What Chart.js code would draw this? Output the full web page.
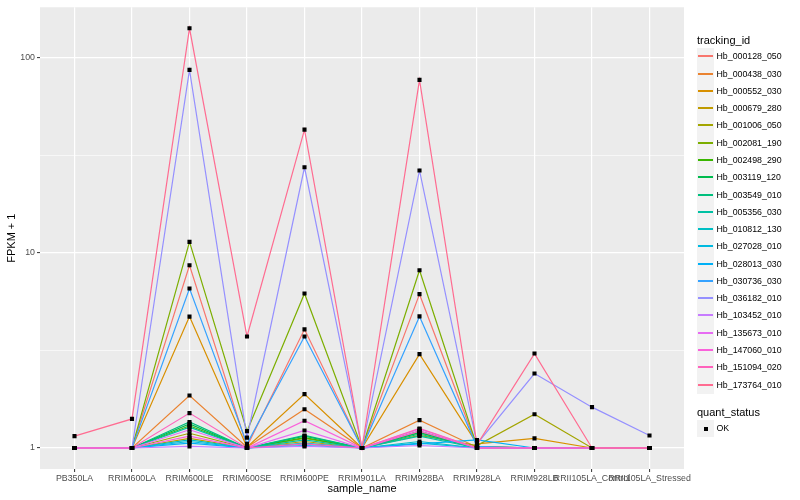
<!DOCTYPE html>
<html><head><meta charset="utf-8">
<script src="https://cdn.jsdelivr.net/npm/chart.js@4"></script>
<style>
body{margin:0;background:#fff;}
#wrap{position:relative;width:800px;height:500px;font-family:"Liberation Sans",Arial,sans-serif;overflow:hidden;}
canvas{position:absolute;left:0;top:0;}
.t{position:absolute;white-space:nowrap;color:#000;}
.key{position:absolute;background:#F2F2F2;}
.kl{position:absolute;left:0;right:0;}
</style></head><body>
<div id="wrap"><canvas id="c" width="800" height="500"></canvas><div id="legend"></div></div>
<script>
const sampleNames = ["PB350LA","RRIM600LA","RRIM600LE","RRIM600SE","RRIM600PE","RRIM901LA","RRIM928BA","RRIM928LA","RRIM928LB","RRII105LA_Control","RRII105LA_Stressed"];
const trackingIds = ["Hb_000128_050","Hb_000438_030","Hb_000552_030","Hb_000679_280","Hb_001006_050","Hb_002081_190","Hb_002498_290","Hb_003119_120","Hb_003549_010","Hb_005356_030","Hb_010812_130","Hb_027028_010","Hb_028013_030","Hb_030736_030","Hb_036182_010","Hb_103452_010","Hb_135673_010","Hb_147060_010","Hb_151094_020","Hb_173764_010"];

// FPKM + 1 per sample
const hb_000128_050 = [1,1,8.65,1.02,4.06,1,6.15,1.02,1,1,1];
const hb_000438_030 = [1,1,1.86,1.01,1.58,1,1.39,1.01,1,1,1];
const hb_000552_030 = [1,1,4.72,1.01,1.89,1,3.03,1.05,1.12,1,1];
const hb_000679_280 = [1,1,1.12,1,1.08,1,1.2,1,1,1,1];
const hb_001006_050 = [1,1,1.19,1,1.12,1,1.16,1.03,1.49,1,1];
const hb_002081_190 = [1,1,11.4,1.22,6.2,1,8.16,1.02,1,1,1];
const hb_002498_290 = [1,1,1.3,1,1.13,1,1.22,1,1,1,1];
const hb_003119_120 = [1,1,1.33,1,1.15,1,1.2,1,1,1,1];
const hb_003549_010 = [1,1,1.36,1,1.16,1,1.18,1,1,1,1];
const hb_005356_030 = [1,1,1.28,1,1.1,1,1.15,1,1,1,1];
const hb_010812_130 = [1,1,1.1,1,1.06,1,1.08,1,1,1,1];
const hb_027028_010 = [1,1,1.08,1,1.05,1,1.06,1,1,1,1];
const hb_028013_030 = [1,1,1.06,1,1.03,1,1.05,1.1,1,1,1];
const hb_030736_030 = [1,1,6.58,1.05,3.73,1,4.73,1.02,1,1,1];
const hb_036182_010 = [1,1,86.9,1.13,27.5,1,26.5,1.05,2.41,1.62,1.16];
const hb_103452_010 = [1,1,1.02,1,1.02,1,1.03,1,1,1,1];
const hb_135673_010 = [1,1,1.24,1,1.23,1,1.25,1,1,1,1];
const hb_147060_010 = [1,1,1.15,1,1.38,1,1.22,1,1,1,1];
const hb_151094_020 = [1,1,1.51,1,1.05,1,1.26,1,1,1,1];
const hb_173764_010 = [1.15,1.41,142,3.73,42.9,1,77.2,1.04,3.05,1,1];

const seriesValues = [hb_000128_050,hb_000438_030,hb_000552_030,hb_000679_280,hb_001006_050,hb_002081_190,hb_002498_290,hb_003119_120,hb_003549_010,hb_005356_030,hb_010812_130,hb_027028_010,hb_028013_030,hb_030736_030,hb_036182_010,hb_103452_010,hb_135673_010,hb_147060_010,hb_151094_020,hb_173764_010];

const yTickValues = [1,10,100];
const yTickLabels = ["1","10","100"];

const palette = ["#F8766D","#EA8331","#D89000","#C09B00","#A3A500","#7CAE00","#39B600","#00BB4E","#00BF7D","#00C1A3","#00BFC4","#00BAE0","#00B0F6","#35A2FF","#9590FF","#C77CFF","#E76BF3","#FA62DB","#FF62BC","#FF6C91"];

Chart.defaults.font.family = '"Liberation Sans", Arial, sans-serif';

// log range with 5% expansion like ggplot
const allVals = seriesValues.flat();
const lo = Math.log10(Math.min(...allVals)), hi = Math.log10(Math.max(...allVals));
const padL = (hi - lo) * 0.05;
const yMin = Math.pow(10, lo - padL), yMax = Math.pow(10, hi + padL);
const yGrid = [];
yTickValues.forEach((v,i)=>{ yGrid.push(v); if(i<yTickValues.length-1) yGrid.push(Math.sqrt(v*yTickValues[i+1])); });
const isMajor = v => yTickValues.some(t => Math.abs(t - v) < 1e-9);

const panelBg = {id:'panelBg', beforeDraw(chart){const {ctx, chartArea:a}=chart; ctx.save(); ctx.fillStyle='#EBEBEB'; ctx.fillRect(a.left,a.top,a.right-a.left,a.bottom-a.top); ctx.restore();}};

const n = trackingIds.length;
const lineSets = trackingIds.map((id,i)=>({
  label:id, data: seriesValues[i].map((v,j)=>({x:j,y:v})),
  borderColor: palette[i], backgroundColor: palette[i], borderWidth:1.2,
  pointRadius:0, pointHoverRadius:0, fill:false, tension:0, order: n - i + 1
}));
const pointSets = trackingIds.map((id,i)=>({
  label:id+'_pts', data: seriesValues[i].map((v,j)=>({x:j,y:v})),
  showLine:false, pointStyle:'rect', pointRadius:2.9, pointHoverRadius:2.9,
  backgroundColor:'#000', borderColor:'#000', borderWidth:0, order:0
}));

new Chart(document.getElementById('c'), {
  type:'line',
  data:{datasets:[...lineSets, ...pointSets]},
  plugins:[panelBg],
  options:{
    responsive:false, animation:false, devicePixelRatio:1,
    layout:{padding:{left:0,right:116,top:5,bottom:0}},
    plugins:{legend:{display:false}, tooltip:{enabled:false}},
    scales:{
      x:{type:'linear', min:-0.6, max:sampleNames.length-1+0.6,
        afterBuildTicks(s){ s.ticks = sampleNames.map((_,i)=>({value:i})); },
        afterFit(s){ s.height = 31; },
        ticks:{autoSkip:false, maxRotation:0, minRotation:0, color:'#4D4D4D', font:{size:8.8}, padding:1,
          callback:(v)=> sampleNames[v] ?? ''},
        grid:{color:'#FFFFFF', lineWidth:1.2, tickLength:3, tickColor:'#333333', tickWidth:1},
        border:{display:false},
        title:{display:true, text:'sample_name', color:'#000', font:{size:11}, padding:{top:0,bottom:4}}
      },
      y:{type:'logarithmic', min:yMin, max:yMax,
        afterBuildTicks(s){ s.ticks = yGrid.map(v=>({value:v})); },
        afterFit(s){ s.width = 40; },
        ticks:{autoSkip:false, color:'#4D4D4D', font:{size:8.8}, padding:2,
          callback:(v)=>{ const k = yTickValues.findIndex(t=>Math.abs(t-v)<1e-9); return k>=0 ? yTickLabels[k] : ''; }},
        grid:{color:'#FFFFFF',
          lineWidth:(c)=> (c.tick && isMajor(c.tick.value)) ? 1.2 : 0.6,
          tickColor:(c)=> (c.tick && isMajor(c.tick.value)) ? '#333333' : 'rgba(0,0,0,0)',
          tickLength:3, tickWidth:1},
        border:{display:false},
        title:{display:true, text:'FPKM + 1', color:'#000', font:{size:11}, padding:{top:5,bottom:0}}
      }
    }
  }
});

// ggplot-style legend
const lg = document.getElementById('legend');
function el(cls, style, text){ const d=document.createElement('div'); d.className=cls; Object.assign(d.style, style); if(text!==undefined) d.textContent=text; lg.appendChild(d); return d; }
const lx = 697, keyH = 17.28, firstTop = 48;
el('t', {left:lx+'px', top:'33.5px', fontSize:'11px', lineHeight:'13px'}, 'tracking_id');
trackingIds.forEach((id,i)=>{
  const top = Math.round(firstTop + i*keyH);
  const bot = Math.round(firstTop + (i+1)*keyH);
  const h = bot - top;
  const k = el('key', {left:lx+'px', top:top+'px', width:'17px', height:(h-0.5)+'px'});
  const l = document.createElement('div'); l.className='kl';
  Object.assign(l.style,{top:(Math.floor(h/2)-1)+'px', height:'2px', background:palette[i], left:'1px', right:'1px'});
  k.appendChild(l);
  el('t', {left:(lx+19.5)+'px', top:top+'px', fontSize:'8.8px', lineHeight:h+'px'}, id);
});
el('t', {left:lx+'px', top:'405.5px', fontSize:'11px', lineHeight:'13px'}, 'quant_status');
const okTop = 420;
const ok = el('key', {left:lx+'px', top:okTop+'px', width:'17px', height:'17px'});
const sq = document.createElement('div');
Object.assign(sq.style,{position:'absolute', left:'7px', top:'7px', width:'4px', height:'4px', background:'#000'});
ok.appendChild(sq);
el('t', {left:(lx+19.5)+'px', top:okTop+'px', fontSize:'8.8px', lineHeight:'17px'}, 'OK');
</script>
</body></html>
